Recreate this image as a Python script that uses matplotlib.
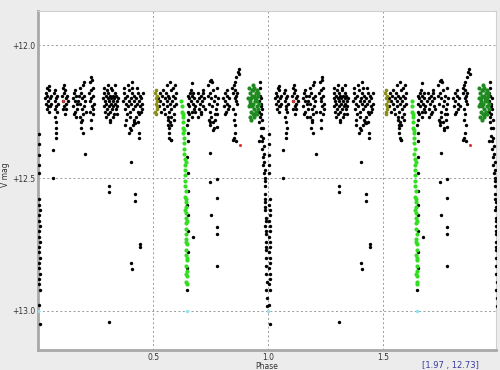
import matplotlib
matplotlib.use("Agg")
import matplotlib.pyplot as plt
import numpy as np

# phase 0..1 measurements (plotted twice: phase and phase+1)
black_phase = [
    .031, .034, .036, .038, .040, .043, .045, .047, .049, .052, .055, .058, .041, .050, .047,
    .071, .073, .075, .077, .079, .081, .083, .085, .074, .078, .080, .076, .078, .077,
    .104, .107, .110, .112, .115, .118, .120, .123, .126, .129, .108, .114, .121, .117,
    .150, .153, .156, .159, .162, .165, .168, .171, .155, .161, .167, .173,
    .178, .181, .184, .187, .190, .193, .196, .199, .202, .205, .208, .183, .189, .195, .201, .186, .192, .197,
    .222, .225, .228, .231, .234, .237, .240, .243, .226, .232, .238, .229, .235, .241, .230, .229,
    .284, .286, .288, .290, .292, .294, .296, .298, .300, .302, .304, .306, .308, .310, .312, .314,
    .316, .318, .320, .322, .324, .326, .328, .330, .332, .334, .336, .338, .340, .342, .344, .346,
    .287, .295, .303, .311, .319, .327, .335, .343, .311,
    .370, .373, .376, .379, .382, .385, .388, .391, .394, .397, .400, .403, .406, .409, .412,
    .415, .418, .421, .424, .427, .430, .433, .436, .439, .442, .445, .448, .451, .454, .457,
    .374, .383, .392, .401, .410, .419, .428, .437, .446, .380, .398, .416, .434, .407, .395, .404, .413,
    .423, .440, .440,
    .523, .526, .529, .532, .535, .538, .541, .544, .547, .550, .553, .556, .559, .562,
    .565, .568, .571, .574, .577, .580, .583, .586, .589, .592, .595, .598, .601,
    .565, .567, .569, .571, .566, .570, .572, .560, .575, .580, .585, .590, .578, .596, .578,
    .648, .650, .649, .651, .650, .649, .651, .650, .652, .649, .646,
    .650, .652, .651, .653, .650,
    .655, .658, .661, .664, .667, .670, .673, .676, .679, .682, .657, .663, .669, .675, .681, .668,
    .692, .695, .698, .701, .704, .707, .710, .713, .716, .719, .722, .725, .697, .709, .718,
    .737, .740, .743, .746, .749, .752, .755, .758, .761, .764, .767, .770, .773, .776, .779, .782,
    .741, .747, .753, .759, .765, .771, .777, .750, .762, .748, .777, .748,
    .805, .808, .811, .814, .817, .820, .823, .826, .829, .832, .812, .821,
    .845, .848, .851, .854, .857, .860, .863, .866, .849, .855, .861, .852, .858, .856, .853, .859,
    .857, .862, .870, .875, .873,
    .958, .961, .964, .967, .960, .963, .966, .969, .962, .965, .968, .971, .967, .970, .973, .972,
    .975, .974, .977, .976, .979, .978, .981, .980, .983,
    .984, .985, .986, .987, .985, .988, .987, .989, .988, .990, .989, .991, .990, .992, .991, .993,
    .992, .994, .993, .986, .988, .990, .992, .987, .989,
    .004, .005, .004, .005, .004, .006, .005, .007, .006, .005, .007, .006, .005, .007, .006, .005,
    .007, .006, .005, .007, .006, .005, .007, .005, .008,
    .064, .206, .404, .064, .310, .310, .423, .423, .443, .443, .404, .407, .310, .672, .749, .748,
    .777, .777, .752, .778, .778, .778, .578, .846, .960,
]
black_mag = [
    12.20, 12.22, 12.18, 12.24, 12.19, 12.21, 12.23, 12.17, 12.25, 12.20, 12.22, 12.19, 12.16, 12.23, 12.154,
    12.18, 12.21, 12.17, 12.23, 12.20, 12.25, 12.19, 12.22, 12.27, 12.29, 12.31, 12.24, 12.33, 12.35,
    12.19, 12.16, 12.21, 12.18, 12.23, 12.17, 12.20, 12.22, 12.19, 12.21, 12.24, 12.15, 12.24, 12.26,
    12.20, 12.23, 12.18, 12.21, 12.25, 12.19, 12.22, 12.24, 12.26, 12.17, 12.27, 12.21,
    12.19, 12.16, 12.22, 12.18, 12.24, 12.20, 12.15, 12.23, 12.19, 12.21, 12.25, 12.27, 12.29, 12.26, 12.14, 12.31, 12.28, 12.33,
    12.18, 12.14, 12.21, 12.17, 12.23, 12.19, 12.16, 12.22, 12.25, 12.12, 12.26, 12.20, 12.13, 12.24, 12.28, 12.31,
    12.20, 12.23, 12.18, 12.21, 12.25, 12.19, 12.22, 12.17, 12.24, 12.20, 12.26, 12.18, 12.21, 12.23, 12.19, 12.25,
    12.20, 12.22, 12.17, 12.24, 12.21, 12.19, 12.23, 12.26, 12.20, 12.18, 12.22, 12.24, 12.19, 12.21, 12.23, 12.20,
    12.16, 12.27, 12.15, 12.28, 12.16, 12.27, 12.15, 12.26, 12.29,
    12.21, 12.18, 12.24, 12.20, 12.22, 12.26, 12.19, 12.23, 12.17, 12.21, 12.25, 12.20, 12.22, 12.18, 12.24,
    12.21, 12.19, 12.23, 12.27, 12.20, 12.22, 12.18, 12.25, 12.21, 12.19, 12.23, 12.20, 12.24, 12.22, 12.18,
    12.16, 12.28, 12.15, 12.27, 12.16, 12.29, 12.16, 12.26, 12.25, 12.30, 12.31, 12.28, 12.29, 12.14, 12.33, 12.32, 12.30,
    12.294, 12.332, 12.351,
    12.20, 12.23, 12.18, 12.21, 12.25, 12.19, 12.22, 12.17, 12.24, 12.20, 12.26, 12.18, 12.21, 12.23,
    12.19, 12.25, 12.20, 12.22, 12.17, 12.24, 12.21, 12.19, 12.23, 12.26, 12.20, 12.18, 12.22,
    12.28, 12.30, 12.33, 12.35, 12.27, 12.31, 12.29, 12.15, 12.14, 12.27, 12.16, 12.28, 12.30, 12.15, 12.357,
    12.30, 12.36, 12.42, 12.48, 12.55, 12.60, 12.64, 12.70, 12.78, 12.84, 12.92,
    12.19, 12.22, 12.25, 12.28, 12.33,
    12.20, 12.23, 12.18, 12.21, 12.25, 12.19, 12.22, 12.24, 12.20, 12.23, 12.26, 12.17, 12.27, 12.18, 12.25, 12.142,
    12.21, 12.18, 12.24, 12.20, 12.22, 12.19, 12.25, 12.21, 12.18, 12.23, 12.20, 12.24, 12.27, 12.26, 12.17,
    12.19, 12.15, 12.22, 12.18, 12.25, 12.20, 12.14, 12.23, 12.17, 12.21, 12.26, 12.19, 12.24, 12.16, 12.22, 12.20,
    12.28, 12.30, 12.27, 12.29, 12.31, 12.28, 12.26, 12.13, 12.32, 12.135, 12.307, 12.288,
    12.20, 12.23, 12.18, 12.21, 12.25, 12.19, 12.22, 12.24, 12.20, 12.23, 12.26, 12.17,
    12.16, 12.18, 12.15, 12.20, 12.17, 12.19, 12.22, 12.18, 12.24, 12.26, 12.21, 12.28, 12.30, 12.33, 12.35, 12.36,
    12.14, 12.12, 12.10, 12.11, 12.09,
    12.18, 12.21, 12.16, 12.23, 12.25, 12.19, 12.27, 12.22, 12.29, 12.14, 12.31, 12.20, 12.34, 12.26, 12.24, 12.36,
    12.28, 12.39, 12.31, 12.42, 12.35, 12.45, 12.38, 12.48, 12.41,
    12.44, 12.50, 12.47, 12.53, 12.56, 12.59, 12.62, 12.65, 12.68, 12.71, 12.74, 12.77, 12.80, 12.83, 12.86, 12.89,
    12.92, 12.95, 12.98, 12.51, 12.61, 12.66, 12.76, 12.58, 12.70,
    12.335, 12.372, 12.414, 12.45, 12.48, 12.58, 12.60, 12.62, 12.64, 12.66, 12.68, 12.70, 12.72, 12.74, 12.76, 12.78,
    12.80, 12.82, 12.84, 12.86, 12.88, 12.90, 12.92, 12.977, 13.049,
    12.395, 12.41, 12.439, 12.50, 12.53, 12.552, 12.561, 12.586, 12.749, 12.758, 12.821, 12.843, 13.042, 12.723, 12.407, 12.515,
    12.503, 12.576, 12.639, 12.685, 12.712, 12.83, 12.357, 12.357, 12.36,
]

green_phase = [.623, .625, .626, .628, .629, .631, .632, .633, .634, .636, .635, .637, .638, .637, .639, .640,
               .638, .641, .640, .642, .641, .643, .642, .644, .643, .645, .644, .646, .645, .644, .646, .645,
               .647, .646, .645, .646, .641, .643, .639, .646, .642, .647, .643, .635, .630]
green_mag = [12.21, 12.23, 12.25, 12.27, 12.29, 12.31, 12.33, 12.35, 12.37, 12.39, 12.41, 12.43, 12.45, 12.47, 12.49, 12.51,
             12.53, 12.55, 12.57, 12.59, 12.61, 12.63, 12.65, 12.67, 12.69, 12.71, 12.73, 12.75, 12.77, 12.79, 12.81, 12.83,
             12.85, 12.87, 12.89, 12.90, 12.44, 12.58, 12.62, 12.66, 12.74, 12.80, 12.86, 12.32, 12.26]

dkgreen_phase = [.914, .917, .920, .923, .926, .929, .932, .935, .938, .941, .944, .947, .950, .953, .956, .959,
                 .916, .922, .928, .934, .940, .946, .952, .958, .919, .925, .931, .937, .943, .949, .955, .927,
                 .939, .951, .933]
dkgreen_mag = [12.20, 12.23, 12.18, 12.21, 12.25, 12.19, 12.22, 12.17, 12.24, 12.20, 12.26, 12.18, 12.21, 12.23, 12.19, 12.22,
               12.16, 12.27, 12.17, 12.26, 12.16, 12.25, 12.17, 12.24, 12.22, 12.20, 12.23, 12.19, 12.21, 12.20, 12.18, 12.28,
               12.27, 12.26, 12.15]

olive_phase = [.509, .511, .513, .515, .517, .519, .510, .514, .518, .512]
olive_mag = [12.18, 12.20, 12.22, 12.19, 12.24, 12.21, 12.25, 12.17, 12.23, 12.26]

red_phase = [.107, .878]
red_mag = [12.21, 12.375]

cyan_phase = [.648, .0]
cyan_mag = [13.0, 13.0]

fig = plt.figure(figsize=(5, 3.7), dpi=100, facecolor="#ececec")
ax = fig.add_axes([0.076, 0.054, 0.916, 0.916])
ax.set_facecolor("white")

def fold(p, m, c, s=6):
    p = np.asarray(p); m = np.asarray(m)
    ax.scatter(np.r_[p, p + 1], np.r_[m, m], s=s, c=c, marker="o", linewidths=0, zorder=3)

fold(black_phase, black_mag, "black")
fold(green_phase, green_mag, "#33dd22", s=9)
fold(dkgreen_phase, dkgreen_mag, "#1f8a1f", s=9)
fold(olive_phase, olive_mag, "#8c8c1a", s=7)
fold(red_phase, red_mag, "#dd3333", s=5)
fold(cyan_phase, cyan_mag, "#8fe3f0", s=6)

ax.set_xlim(0.0, 1.99)
ax.set_ylim(13.147, 11.872)
ax.set_xticks([0.5, 1.0, 1.5]); ax.set_xticklabels(["0.5", "1.0", "1.5"])
ax.set_yticks([12.0, 12.5, 13.0]); ax.set_yticklabels(["+12.0", "+12.5", "+13.0"])
ax.tick_params(length=0, labelsize=5.5, colors="#333333", pad=2)
ax.grid(True, color="#999999", linestyle=(0, (2, 2.5)), linewidth=0.7)
ax.set_axisbelow(True)
for s in ["left", "bottom"]:
    ax.spines[s].set_color("#a8a8a8"); ax.spines[s].set_linewidth(2)
for s in ["top", "right"]:
    ax.spines[s].set_color("#d0d0d0"); ax.spines[s].set_linewidth(0.8)

fig.text(0.012, 0.527, "V mag", rotation=90, ha="center", va="center", fontsize=5.5, color="#333333")
fig.text(0.534, 0.010, "Phase", ha="center", va="center", fontsize=5.5, color="#333333")
fig.text(0.90, 0.012, "[1.97 , 12.73]", ha="center", va="center", fontsize=6, color="#3a3aa0")

fig.savefig("out.png", dpi=100, facecolor=fig.get_facecolor())
